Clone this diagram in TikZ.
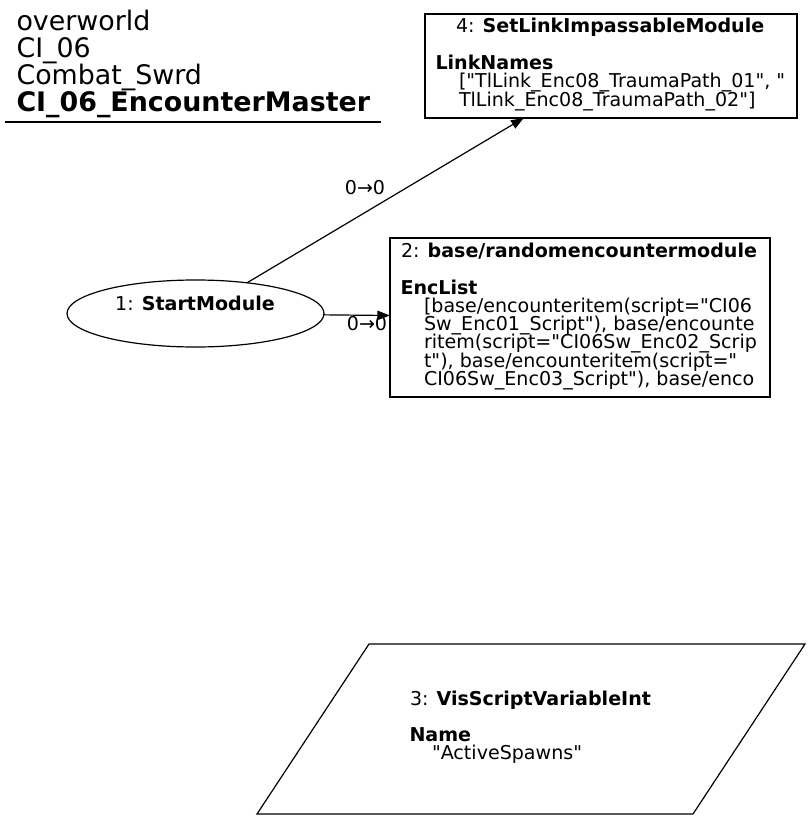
\documentclass[tikz,border=0pt]{standalone}
\usepackage{fontspec}
\setmainfont[Ligatures=TeXOff]{DejaVu Sans}
\usetikzlibrary{shapes.geometric,arrows.meta}
\tikzset{
  edge/.style={draw=black, line width=0.9pt, -{Triangle[length=9.5pt,width=7pt]}},
  modbox/.style={draw=black, line width=0.9pt, rectangle, inner sep=0pt, outer sep=0pt, fill=white},
  startell/.style={draw=black, line width=0.9pt, ellipse, inner sep=0pt, outer sep=0pt},
  ltxt/.style={anchor=base west, inner sep=0pt, outer sep=0pt, font=\fontsize{14.3}{14.3}\selectfont},
  ctxt/.style={anchor=base, inner sep=0pt, outer sep=0pt, font=\fontsize{14.3}{14.3}\selectfont},
  ttxt/.style={anchor=base west, inner sep=0pt, outer sep=0pt, font=\fontsize{20.15}{20.15}\selectfont},
  elabel/.style={anchor=base, inner sep=0pt, outer sep=0pt, font=\fontsize{14.3}{14.3}\selectfont}
}
\begin{document}
\begin{tikzpicture}[x=0.75pt,y=-0.75pt]
\useasboundingbox (0,0) rectangle (811,820);
% title
\node[ttxt] (t1) at (16.5,30.5) {overworld};
\node[ttxt] (t2) at (16.5,57.5) {CI\_06};
\node[ttxt] (t3) at (16.5,84.5) {Combat\_Swrd};
\node[ttxt] (t4) at (16.5,111.5) {\textbf{CI\_06\_EncounterMaster}};
\coordinate (ula) at (5,122);
\coordinate (ulb) at (381,122);
\draw[line width=0.9pt] (ula) -- (ulb);

% node 4
\node[modbox, minimum width=279pt, minimum height=78pt] (n4) at (611,66) {};
\node[ltxt] (n4a) at (456,32.5) {4: \textbf{SetLinkImpassableModule}};
\node[ltxt] (n4b) at (435.5,69.5) {\textbf{LinkNames}};
\node[ltxt] (n4c) at (459,87.8) {["TlLink\_Enc08\_TraumaPath\_01", "};
\node[ltxt] (n4d) at (459,106.1) {TlLink\_Enc08\_TraumaPath\_02"]};

% node 2
\node[modbox, minimum width=285pt, minimum height=119.25pt] (n2) at (580,317.5) {};
\node[ltxt] (n2a) at (401,257) {2: \textbf{base/randomencountermodule}};
\node[ltxt] (n2b) at (400.5,294) {\textbf{EncList}};
\node[ltxt] (n2c) at (424,312.3) {[base/encounteritem(script="CI06};
\node[ltxt] (n2d) at (424,330.6) {Sw\_Enc01\_Script"), base/encounte};
\node[ltxt] (n2e) at (424,348.9) {ritem(script="CI06Sw\_Enc02\_Scrip};
\node[ltxt] (n2f) at (424,367.2) {t"), base/encounteritem(script="};
\node[ltxt] (n2g) at (424,385.5) {CI06Sw\_Enc03\_Script"), base/enco};

% node 1
\node[startell, minimum width=192.75pt, minimum height=50.25pt] (n1) at (195.5,313.5) {};
\node[ctxt] (n1a) at (195,310) {1: \textbf{StartModule}};

% node 3
\coordinate (p1) at (257,814);
\coordinate (p2) at (369,644);
\coordinate (p3) at (805,644);
\coordinate (p4) at (693,814);
\draw[line width=0.9pt] (p1) -- (p2) -- (p3) -- (p4) -- cycle;
\node[ltxt] (n3a) at (410,705) {3: \textbf{VisScriptVariableInt}};
\node[ltxt] (n3b) at (409.5,741.6) {\textbf{Name}};
\node[ltxt] (n3c) at (432,759.9) {"ActiveSpawns"};

% edges
\draw[edge] (n1) -- (n4);
\draw[edge] (n1) -- (n2);
\node[elabel] (e1) at (365,194.5) {0→0};
\node[elabel] (e2) at (367,330.5) {0→0};
\end{tikzpicture}
\end{document}
